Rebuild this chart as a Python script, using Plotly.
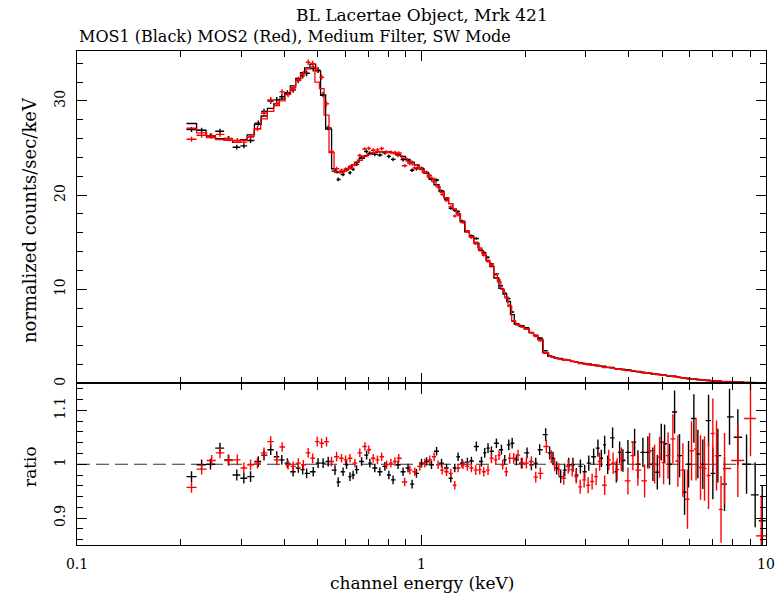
import numpy as np
import plotly.graph_objects as go

# ---------------- data ----------------
# MOS1 (black): bin centre energy (keV), model (counts/s/keV), data/model ratio, ratio error
mos1_energy = [0.215, 0.230, 0.244, 0.260, 0.275, 0.291, 0.305, 0.319, 0.336, 0.349,
               0.365, 0.380, 0.393, 0.408, 0.424, 0.439, 0.452, 0.464, 0.485, 0.501,
               0.518, 0.536, 0.561, 0.573, 0.592, 0.606, 0.620, 0.633, 0.648, 0.670,
               0.693, 0.708, 0.732, 0.757, 0.783, 0.804, 0.827, 0.855, 0.884, 0.914,
               0.939, 0.967, 1.000, 1.034, 1.069, 1.106, 1.143, 1.182, 1.216, 1.249,
               1.277, 1.311, 1.359, 1.396, 1.443, 1.493, 1.526, 1.560, 1.596, 1.650,
               1.706, 1.744, 1.792, 1.833, 1.886, 1.950, 2.025, 2.084, 2.146, 2.203,
               2.293, 2.355, 2.408, 2.468, 2.535, 2.604, 2.676, 2.752, 2.816, 2.892,
               2.976, 3.059, 3.160, 3.252, 3.327, 3.401, 3.471, 3.587, 3.677, 3.759,
               3.843, 3.974, 4.155, 4.247, 4.392, 4.541, 4.696, 4.836, 4.966, 5.077,
               5.249, 5.428, 5.611, 5.802, 5.959, 6.175, 6.342, 6.557, 6.811, 7.010,
               7.248, 7.579, 7.836, 8.283, 8.781, 9.300, 9.750]
mos1_model = [27.6, 26.9, 26.3, 26.0, 25.8, 25.6, 25.9, 26.4, 27.5, 28.4,
              29.2, 29.7, 30.2, 30.8, 31.6, 32.4, 33.0, 33.5, 33.9, 33.2,
              30.6, 27.0, 22.8, 22.4, 22.5, 22.7, 22.9, 23.2, 23.5, 23.9,
              24.2, 24.4, 24.5, 24.6, 24.6, 24.6, 24.5, 24.3, 24.1, 23.8,
              23.5, 23.2, 22.8, 22.3, 21.7, 21.1, 20.4, 19.7, 19.1, 18.5,
              18.0, 17.2, 16.1, 15.6, 14.9, 14.1, 13.6, 13.0, 12.4, 11.2,
              10.1, 9.5, 8.7, 7.3, 6.3, 6.1, 5.8, 5.4, 5.1, 4.7,
              3.3, 2.9, 2.8, 2.7, 2.65, 2.55, 2.45, 2.35, 2.28, 2.2,
              2.12, 2.05, 1.95, 1.87, 1.82, 1.76, 1.71, 1.63, 1.57, 1.52,
              1.47, 1.40, 1.30, 1.25, 1.18, 1.10, 1.03, 0.96, 0.90, 0.85,
              0.78, 0.71, 0.64, 0.57, 0.52, 0.46, 0.41, 0.36, 0.31, 0.27,
              0.24, 0.20, 0.17, 0.14, 0.11, 0.09, 0.08]
mos1_ratio = [0.977, 0.999, 1.000, 1.030, 1.008, 0.980, 0.974, 0.977, 1.005, 1.017,
              1.027, 1.014, 1.008, 1.002, 0.986, 0.993, 0.990, 0.983, 0.986, 1.002,
              1.002, 1.005, 0.989, 0.967, 0.986, 0.999, 0.977, 0.980, 0.990, 1.005,
              1.017, 1.002, 0.993, 0.986, 0.996, 0.980, 0.971, 0.999, 0.986, 0.993,
              0.963, 0.983, 1.002, 1.005, 0.999, 1.024, 1.002, 0.993, 0.974, 0.993,
              1.014, 1.002, 1.004, 1.006, 1.033, 1.005, 1.021, 1.030, 1.024, 1.039,
              1.027, 1.008, 1.036, 1.039, 1.008, 1.002, 1.021, 0.999, 1.002, 1.027,
              1.055, 1.021, 1.011, 0.993, 0.977, 0.989, 0.999, 0.999, 0.980, 0.996,
              0.986, 1.002, 1.014, 1.030, 1.011, 1.036, 0.999, 1.049, 0.986, 1.022,
              1.007, 1.022, 1.041, 1.000, 1.022, 1.022, 1.000, 0.985, 1.041, 1.038,
              1.000, 1.097, 1.016, 0.948, 1.000, 1.085, 1.019, 1.000, 1.081, 0.983,
              1.016, 0.963, 1.088, 1.050, 1.000, 0.943, 0.895]
mos1_err = [0.010, 0.010, 0.010, 0.010, 0.010, 0.010, 0.010, 0.010, 0.010, 0.010,
            0.010, 0.010, 0.009, 0.009, 0.009, 0.009, 0.009, 0.009, 0.009, 0.009,
            0.009, 0.009, 0.009, 0.009, 0.008, 0.008, 0.008, 0.008, 0.008, 0.008,
            0.008, 0.008, 0.008, 0.008, 0.008, 0.008, 0.008, 0.008, 0.008, 0.008,
            0.008, 0.008, 0.008, 0.008, 0.008, 0.008, 0.008, 0.008, 0.008, 0.008,
            0.008, 0.008, 0.008, 0.008, 0.009, 0.009, 0.009, 0.009, 0.009, 0.009,
            0.009, 0.009, 0.010, 0.010, 0.010, 0.010, 0.010, 0.010, 0.010, 0.010,
            0.012, 0.012, 0.012, 0.012, 0.012, 0.012, 0.013, 0.013, 0.013, 0.013,
            0.013, 0.014, 0.015, 0.016, 0.016, 0.017, 0.017, 0.019, 0.020, 0.020,
            0.021, 0.023, 0.025, 0.026, 0.027, 0.030, 0.031, 0.032, 0.034, 0.036,
            0.038, 0.040, 0.040, 0.042, 0.043, 0.045, 0.045, 0.046, 0.048, 0.048,
            0.050, 0.050, 0.052, 0.052, 0.055, 0.060, 0.065]

# MOS2 (red)
mos2_energy = [0.215, 0.230, 0.246, 0.260, 0.276, 0.292, 0.305, 0.319, 0.334, 0.349,
               0.365, 0.380, 0.394, 0.410, 0.424, 0.439, 0.454, 0.469, 0.483, 0.498,
               0.513, 0.530, 0.548, 0.567, 0.586, 0.602, 0.620, 0.641, 0.662, 0.685,
               0.703, 0.724, 0.745, 0.766, 0.792, 0.815, 0.837, 0.859, 0.894, 0.925,
               0.956, 0.989, 1.022, 1.057, 1.088, 1.117, 1.148, 1.182, 1.216, 1.249,
               1.277, 1.320, 1.359, 1.396, 1.437, 1.476, 1.516, 1.560, 1.596, 1.643,
               1.679, 1.721, 1.762, 1.803, 1.852, 1.906, 1.961, 2.016, 2.084, 2.146,
               2.213, 2.304, 2.382, 2.435, 2.503, 2.587, 2.667, 2.738, 2.812, 2.888,
               2.966, 3.046, 3.128, 3.213, 3.289, 3.401, 3.496, 3.599, 3.697, 3.802,
               3.974, 4.108, 4.247, 4.442, 4.593, 4.749, 4.910, 5.044, 5.196, 5.367,
               5.549, 5.737, 5.918, 6.080, 6.266, 6.456, 6.631, 6.811, 7.010, 7.184,
               7.404, 7.579, 8.283, 9.016, 9.684]
mos2_model = [27.1, 26.6, 26.1, 25.9, 25.8, 25.6, 25.8, 26.2, 27.0, 28.1,
              28.9, 29.5, 30.0, 30.7, 31.4, 32.2, 32.9, 33.4, 33.6, 32.0,
              31.3, 28.5, 24.5, 22.5, 22.4, 22.6, 22.8, 23.2, 23.7, 24.1,
              24.3, 24.5, 24.6, 24.6, 24.6, 24.5, 24.4, 24.2, 23.9, 23.6,
              23.2, 22.9, 22.4, 21.9, 21.4, 20.9, 20.3, 19.7, 19.1, 18.5,
              18.0, 17.1, 16.2, 15.6, 15.0, 14.4, 13.8, 13.1, 12.5, 11.5,
              10.8, 10.0, 9.2, 8.2, 6.6, 6.2, 6.0, 5.8, 5.4, 5.1,
              4.6, 3.2, 2.85, 2.75, 2.65, 2.55, 2.47, 2.38, 2.30, 2.21,
              2.14, 2.07, 1.98, 1.91, 1.85, 1.76, 1.69, 1.62, 1.56, 1.50,
              1.41, 1.34, 1.27, 1.17, 1.10, 1.02, 0.95, 0.89, 0.82, 0.75,
              0.68, 0.61, 0.55, 0.50, 0.45, 0.40, 0.36, 0.32, 0.28, 0.26,
              0.23, 0.21, 0.15, 0.11, 0.09]
mos2_ratio = [0.957, 0.991, 1.007, 1.021, 1.007, 1.008, 0.993, 0.999, 1.002, 1.021,
              1.042, 1.008, 1.032, 0.999, 0.996, 1.002, 0.999, 1.021, 1.011, 1.042,
              1.039, 1.042, 1.005, 1.014, 1.011, 1.008, 1.011, 1.002, 1.021, 1.033,
              1.027, 1.011, 1.008, 1.014, 0.999, 1.002, 1.005, 1.011, 0.967, 0.989,
              0.986, 0.996, 1.002, 1.008, 1.014, 0.999, 0.989, 0.986, 0.983, 0.961,
              0.993, 0.999, 0.996, 0.993, 0.989, 0.990, 0.986, 0.989, 1.011, 1.008,
              1.017, 0.999, 0.986, 1.011, 1.011, 1.017, 1.002, 1.002, 1.005, 0.976,
              0.983, 1.033, 1.014, 0.999, 0.990, 0.974, 0.996, 0.990, 0.977, 0.958,
              0.971, 0.961, 0.968, 0.977, 1.005, 0.961, 1.008, 1.002, 0.990, 1.009,
              0.969, 1.016, 0.989, 0.969, 1.025, 1.000, 1.013, 1.003, 1.016, 1.047,
              1.006, 0.989, 0.935, 1.025, 1.028, 0.994, 0.992, 0.979, 1.057, 1.016,
              0.916, 0.992, 1.007, 1.085, 0.867]
mos2_err = [0.010, 0.010, 0.010, 0.010, 0.010, 0.010, 0.010, 0.010, 0.010, 0.010,
            0.010, 0.010, 0.009, 0.009, 0.009, 0.009, 0.009, 0.009, 0.009, 0.009,
            0.009, 0.009, 0.009, 0.009, 0.008, 0.008, 0.008, 0.008, 0.008, 0.008,
            0.008, 0.008, 0.008, 0.008, 0.008, 0.008, 0.008, 0.008, 0.008, 0.008,
            0.008, 0.008, 0.008, 0.008, 0.008, 0.008, 0.008, 0.008, 0.008, 0.008,
            0.008, 0.008, 0.008, 0.008, 0.009, 0.009, 0.009, 0.009, 0.009, 0.009,
            0.009, 0.009, 0.009, 0.010, 0.010, 0.010, 0.010, 0.010, 0.010, 0.010,
            0.011, 0.012, 0.012, 0.012, 0.012, 0.012, 0.013, 0.013, 0.013, 0.013,
            0.014, 0.015, 0.015, 0.016, 0.017, 0.018, 0.019, 0.020, 0.021, 0.022,
            0.025, 0.027, 0.029, 0.031, 0.033, 0.036, 0.038, 0.040, 0.043, 0.046,
            0.048, 0.050, 0.055, 0.055, 0.058, 0.060, 0.060, 0.062, 0.065, 0.065,
            0.062, 0.066, 0.068, 0.070, 0.075]

x_tick_vals = [0.1, 1, 10]
x_tick_text = ["0.1", "1", "10"]
x_minor_vals = [0.2, 0.3, 0.4, 0.5, 0.6, 0.7, 0.8, 0.9, 2, 3, 4, 5, 6, 7, 8, 9]
y1_tick_vals = [0, 10, 20, 30]
y1_tick_text = ["0", "10", "20", "30"]
y1_minor_vals = [2, 4, 6, 8, 12, 14, 16, 18, 22, 24, 26, 28, 32, 34]
y2_tick_vals = [0.9, 1.0, 1.1]
y2_tick_text = ["0.9", "1", "1.1"]
y2_minor_vals = [0.86, 0.88, 0.92, 0.94, 0.96, 0.98, 1.02, 1.04, 1.06, 1.08, 1.12, 1.14]

FONT = "DejaVu Serif"
BLACK = "#000000"
RED = "#ff0000"


def bin_edges(centres):
    lc = np.log10(np.asarray(centres, dtype=float))
    mids = (lc[1:] + lc[:-1]) / 2.0
    lo = np.concatenate([[2 * lc[0] - mids[0]], mids])
    hi = np.concatenate([mids, [2 * lc[-1] - mids[-1]]])
    return 10 ** lo, 10 ** hi


fig = go.Figure()


def add_instrument(energy, model, ratio, err, color):
    e = np.asarray(energy, dtype=float)
    m = np.asarray(model, dtype=float)
    r = np.asarray(ratio, dtype=float)
    s = np.asarray(err, dtype=float)
    lo, hi = bin_edges(e)
    # model drawn as histogram steps
    xs = np.column_stack([lo, hi]).ravel()
    ys = np.column_stack([m, m]).ravel()
    fig.add_trace(go.Scatter(x=xs, y=ys, mode="lines", xaxis="x", yaxis="y",
                             line=dict(color=color, width=1.3), hoverinfo="skip",
                             showlegend=False))
    data = m * r
    ex = dict(type="data", symmetric=False, array=hi - e, arrayminus=e - lo,
              color=color, thickness=1.4, width=0)
    fig.add_trace(go.Scatter(x=e, y=data, mode="markers", xaxis="x", yaxis="y",
                             marker=dict(size=1, color=color),
                             error_x=ex,
                             error_y=dict(type="data", array=m * s, color=color,
                                          thickness=1.4, width=0),
                             showlegend=False))
    fig.add_trace(go.Scatter(x=e, y=r, mode="markers", xaxis="x2", yaxis="y2",
                             marker=dict(size=1, color=color),
                             error_x=ex,
                             error_y=dict(type="data", array=s, color=color,
                                          thickness=1.4, width=0),
                             showlegend=False))


add_instrument(mos1_energy, mos1_model, mos1_ratio, mos1_err, BLACK)
add_instrument(mos2_energy, mos2_model, mos2_ratio, mos2_err, RED)

tickfont = dict(family=FONT, size=14, color="black")
axis_common = dict(showline=True, linecolor="black", linewidth=1.3, mirror="ticks",
                   ticks="inside", ticklen=10, tickwidth=1.3, tickcolor="black",
                   showgrid=False, zeroline=False, tickfont=tickfont, automargin=False)
minor_common = dict(ticks="inside", ticklen=6, tickwidth=1.2, tickcolor="black",
                    showgrid=False)

split = 0.327
fig.update_layout(
    width=780, height=597, autosize=False,
    margin=dict(l=77, r=14, t=51, b=52, pad=0, autoexpand=False),
    paper_bgcolor="white", plot_bgcolor="white",
    showlegend=False,
    xaxis=dict(type="log", range=[-1, 1], anchor="y", tickmode="array",
               tickvals=x_tick_vals, showticklabels=False,
               minor=dict(tickmode="array", tickvals=x_minor_vals, **minor_common),
               **axis_common),
    xaxis2=dict(type="log", range=[-1, 1], anchor="y2", matches="x", tickmode="array",
                tickvals=x_tick_vals, ticktext=x_tick_text, ticklabelstandoff=6,
                minor=dict(tickmode="array", tickvals=x_minor_vals, **minor_common),
                **axis_common),
    yaxis=dict(domain=[split, 1], range=[0, 35.3], anchor="x", tickmode="array",
               tickvals=y1_tick_vals, ticktext=y1_tick_text, tickangle=-90,
               ticklabelstandoff=5,
               minor=dict(tickmode="array", tickvals=y1_minor_vals, **minor_common),
               **axis_common),
    yaxis2=dict(domain=[0, split], range=[0.85, 1.15], anchor="x2", tickmode="array",
                tickvals=y2_tick_vals, ticktext=y2_tick_text, tickangle=-90,
                ticklabelstandoff=5,
                minor=dict(tickmode="array", tickvals=y2_minor_vals, **minor_common),
                **axis_common),
)

# zero line of the spectrum panel and unity line of the ratio panel
fig.add_shape(type="line", xref="x domain", yref="y", x0=0, x1=1, y0=0, y1=0,
              line=dict(color="black", width=2.5), layer="above")
fig.add_shape(type="line", xref="x2 domain", yref="y2", x0=0, x1=1, y0=1, y1=1,
              line=dict(color="#333333", width=1.2, dash="13px,6px"), layer="below")

title_font = dict(family=FONT, size=16, color="black")
axis_title_font = dict(family=FONT, size=17, color="black")
fig.add_annotation(text="BL Lacertae Object, Mrk 421", xref="paper", yref="paper",
                   x=0.5, y=1 + (51 - 15) / 494, xanchor="center", yanchor="middle",
                   showarrow=False, font=dict(family=FONT, size=17, color="black"))
fig.add_annotation(text="MOS1 (Black) MOS2 (Red), Medium Filter, SW Mode",
                   xref="paper", yref="paper", x=0, y=1 + (51 - 36) / 494,
                   xanchor="left", yanchor="middle", showarrow=False, font=title_font)
fig.add_annotation(text="normalized counts/sec/keV", xref="paper", yref="paper",
                   x=(30 - 77) / 689, y=(545 - 220) / 494, textangle=-90,
                   xanchor="center", yanchor="middle", showarrow=False,
                   font=dict(family=FONT, size=18, color="black"))
fig.add_annotation(text="ratio", xref="paper", yref="paper",
                   x=(30 - 77) / 689, y=(545 - 467) / 494, textangle=-90,
                   xanchor="center", yanchor="middle", showarrow=False,
                   font=axis_title_font)
fig.add_annotation(text="channel energy (keV)", xref="paper", yref="paper",
                   x=0.5, y=(545 - 583) / 494, xanchor="center", yanchor="middle",
                   showarrow=False, font=axis_title_font)

fig.write_html("out.html")
